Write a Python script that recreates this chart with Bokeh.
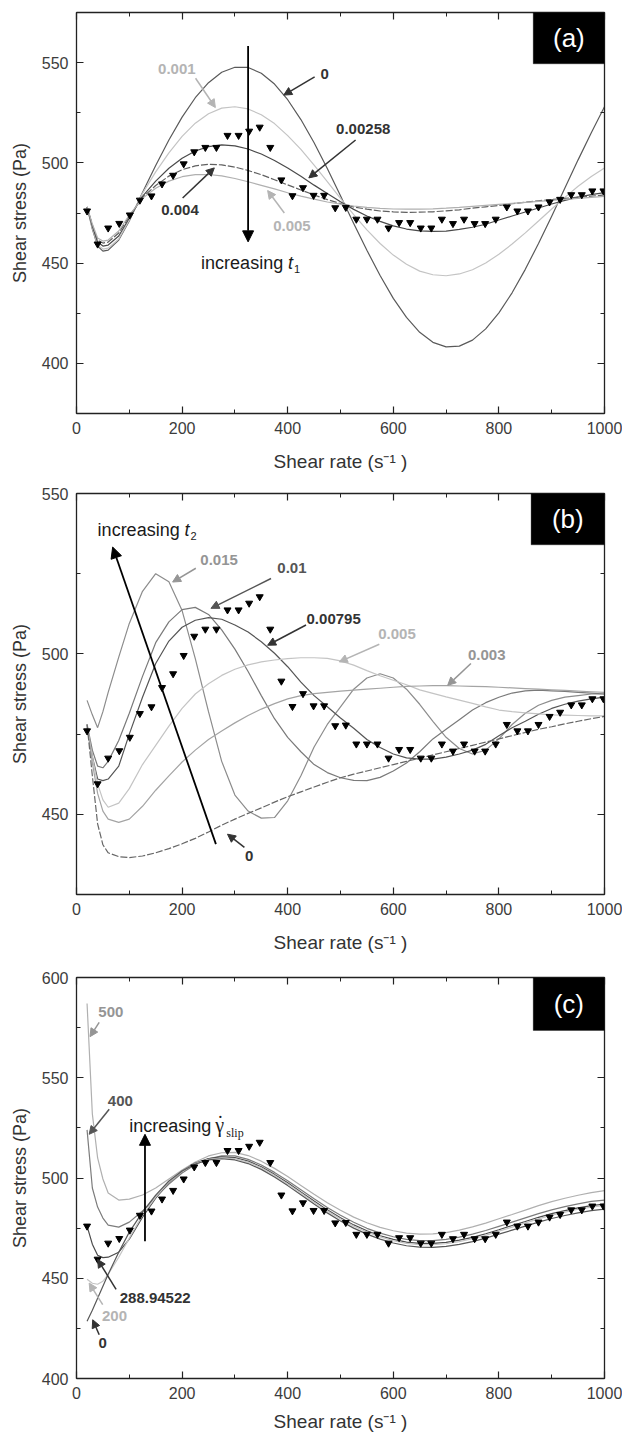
from bokeh.plotting import figure
from bokeh.layouts import column
from bokeh.models import (Range1d, LinearAxis, FixedTicker, BoxAnnotation, Label,
                          Arrow, NormalHead, CustomJSTickFormatter)
from bokeh.embed import file_html
from bokeh.resources import INLINE

FONT = "Liberation Sans"
SERIF = "Liberation Serif"

# ---------------- data ----------------
GRID_X = [20, 30, 40, 50, 60, 80, 100, 125, 150, 175, 200, 225, 250, 275, 300, 325, 350, 375,
          400, 425, 450, 475, 500, 525, 550, 575, 600, 625, 650, 675, 700, 725, 750, 775, 800,
          825, 850, 875, 900, 925, 950, 975, 1000]

DATA_X = [20, 40, 60, 81, 101, 120, 142, 162, 183, 203, 223, 244, 265, 286, 307, 327, 347, 367,
          388, 409, 429, 449, 469, 490, 510, 530, 550, 570, 591, 611, 632, 652, 672, 692, 713,
          734, 754, 774, 794, 815, 835, 855, 875, 896, 916, 937, 957, 977, 998]
DATA_Y = [476, 459.5, 467.5, 469.8, 474, 481.4, 483.5, 489.5, 493.8, 499.5, 505.5, 507.7, 507.7,
          513.7, 513.7, 515.8, 517.8, 507.7, 491.5, 483.6, 487.6, 483.8, 483.8, 477.6, 477.8,
          471.9, 471.9, 471.9, 467.5, 470.2, 470.2, 467.5, 467.5, 471.9, 469.7, 471.9, 469.7,
          469.7, 471.9, 478, 476, 476, 478, 480.5, 481.8, 484.1, 484.1, 486, 486]

# panel (a): t1 series
A_0 = [478, 467, 458.5, 456, 456.5, 461.5, 471, 485.2, 498.7, 511.4, 522.8, 532.5, 540, 545.2,
       547.7, 547.6, 544.7, 539.3, 531.5, 521.6, 510, 497.2, 483.6, 469.8, 456.4, 443.8, 432.4,
       422.9, 415.5, 410.5, 408.2, 408.6, 411.6, 417.2, 425.2, 435.2, 446.9, 459.8, 473.4,
       487.5, 501.5, 515, 528]
A_0001 = [478, 467.5, 459, 457, 457.5, 462, 471.5, 484.8, 495.5, 505, 513.2, 519.8, 524.5, 527.3,
          528, 526.9, 524, 519.6, 513.6, 506.7, 498.9, 490.7, 482.3, 474.2, 466.6, 459.8, 454,
          449.4, 446, 444.2, 443.7, 444.6, 446.7, 450.1, 454.4, 459.5, 465.1, 471, 477, 482.8,
          488.3, 493.2, 497.5]
A_00258 = [478, 468.5, 460.5, 458.5, 459, 463.5, 472.5, 483.3, 490.9, 497.3, 502.3, 505.9, 508.1,
           509, 508.5, 506.9, 504.4, 501.2, 497.4, 493.3, 488.9, 484.7, 480.6, 476.8, 473.5,
           470.8, 468.6, 467, 466.1, 465.8, 466, 466.8, 467.9, 469.4, 471.5, 473.5, 475.5, 477.5,
           479.5, 481.3, 482.9, 484.2, 485.2]
A_0004 = [478, 469, 461.5, 460, 460.5, 465, 473.5, 482.7, 488.7, 493.4, 496.6, 498.5, 499.3, 499,
          497.9, 496.2, 494.1, 491.6, 489, 486.5, 484, 481.7, 479.7, 478, 476.9, 476, 475.6,
          475.3, 475.4, 475.6, 476.1, 476.6, 477.4, 478.1, 478.8, 479.6, 480.4, 481.1, 481.7,
          482.3, 482.9, 483.4, 484]
A_0005 = [478, 469.5, 462.5, 461, 461.5, 466, 474, 482.3, 487.3, 490.9, 493.1, 494.1, 494.2,
          493.5, 492.2, 490.6, 488.8, 487, 485.1, 483.4, 481.9, 480.5, 479.4, 478.5, 477.8,
          477.3, 477, 476.9, 476.9, 477.1, 477.4, 477.8, 478.3, 478.8, 479.3, 479.8, 480.3,
          480.8, 481.3, 481.8, 482.3, 482.8, 483.3]

# panel (b): t2 series
B_0015 = [485.5, 481, 477, 482, 488, 499, 509.5, 519.5, 525, 522.5, 513.5, 498.5, 482, 466.5,
          456, 451, 448.8, 449, 454.2, 462, 471, 478, 483.5, 489, 492.5, 493.8, 492.5, 489,
          484.3, 479, 474, 470.5, 468.8, 470, 473.5, 478, 481.5, 484, 485.5, 486.5, 487, 487.5,
          487.5]
B_001 = [478, 470, 465, 464.5, 466.5, 473, 481.5, 493, 503.5, 510, 513.8, 514.5, 512.3, 507.5,
         501.5, 494.5, 487, 479.8, 474, 469.5, 465.5, 463, 461.4, 460.6, 460.5, 461.5, 463.5,
         466, 469.5, 473.5, 476.5, 479.5, 482.5, 484.8, 486.5, 487.8, 488.5, 488.7, 488.5,
         488.3, 488, 487.8, 487.5]
B_000795 = [477, 468, 461, 460.5, 461, 465, 475, 486.5, 497, 504, 508.3, 510.5, 511.3, 510.8, 509,
            506.8, 503.8, 500.2, 496, 491.2, 487, 483.5, 480, 476.8, 473.3, 470.8, 468.8, 467.6,
            467.2, 467.2, 467.8, 468.8, 470, 471.8, 474.5, 477, 479, 481.2, 483, 484.3, 485.3,
            486, 486.5]
B_0005 = [478, 468, 459.5, 454.5, 452.2, 453.5, 458, 465.5, 471.5, 477.5, 483, 487.5, 490.7,
          493.3, 495.2, 496.6, 497.5, 498.1, 498.5, 498.8, 498.8, 498.6, 497.8, 496.5, 494.8,
          493.2, 491.8, 490.4, 488.8, 487.7, 486.6, 485.6, 484.6, 483.5, 482.5, 482, 481.6,
          481.3, 481, 480.9, 480.8, 480.7, 480.7]
B_0003 = [478, 466, 456.5, 451, 448.5, 447.5, 448.5, 452.5, 457.5, 462, 466.3, 470, 473.3, 476,
          478.5, 480.8, 482.8, 484.5, 486, 487, 487.6, 488, 488.4, 488.7, 489, 489.3, 489.6,
          489.9, 490, 490.1, 490.1, 490, 489.9, 489.8, 489.6, 489.4, 489.2, 489, 488.8, 488.6,
          488.4, 488.2, 488]
B_0 = [478, 462, 447, 440.5, 438, 436.8, 436.5, 437, 438, 439.3, 440.8, 442.5, 444.5, 446.6,
       448.5, 450.3, 452, 453.8, 455.5, 457, 458.5, 460, 461.4, 462.5, 463.5, 464.5, 465.5,
       466.5, 467.5, 468.5, 469.5, 470.5, 471.5, 472.5, 473.5, 474.5, 475.5, 476.5, 477.3,
       478.2, 479, 479.8, 480.5]

# panel (c): slip-rate series
C_0 = [428.5, 434, 440, 446, 452, 463, 473, 483, 491.5, 498.5, 503.5, 507, 509, 509.6, 509,
       507.2, 504.3, 500.5, 496.2, 491.6, 487, 482.6, 478.6, 475, 472, 469.5, 467.6, 466.2,
       465.5, 465.4, 465.9, 466.9, 468.3, 470, 472, 474, 476, 478, 479.8, 481.3, 482.6, 483.7,
       484.5]
C_200 = [449.5, 447.5, 447, 448.5, 452, 460.5, 470, 481.5, 490.5, 498, 503.5, 507.2, 509.3, 510,
         509.7, 507.9, 505.1, 501.3, 497, 492.5, 487.9, 483.6, 479.6, 476, 473.1, 470.6, 468.7,
         467.4, 466.7, 466.7, 467.2, 468.3, 469.7, 471.4, 473.5, 475.5, 477.6, 479.6, 481.5,
         483, 484.4, 485.5, 486.3]
C_289 = [476, 467, 461.5, 460.3, 460.5, 463, 469.5, 480.5, 490, 497.8, 503.5, 507.5, 509.7,
         510.5, 510.2, 508.4, 505.6, 501.8, 497.6, 493, 488.5, 484.1, 480.2, 476.6, 473.7,
         471.2, 469.4, 468, 467.4, 467.4, 467.9, 469, 470.4, 472.2, 474.2, 476.3, 478.3, 480.4,
         482.2, 483.7, 485.1, 486.2, 487]
C_400 = [524, 495, 485.5, 480, 476.5, 475.5, 478, 483.5, 490.5, 497, 502.5, 506.7, 509.6, 511,
         511, 509.3, 506.5, 502.8, 498.6, 494.1, 489.6, 485.3, 481.4, 477.9, 474.9, 472.5, 470.7,
         469.4, 468.8, 468.8, 469.4, 470.5, 472, 473.8, 475.9, 478, 480.1, 482.2, 484.1, 485.7,
         487.1, 488.3, 489]
C_500 = [587, 532, 510, 499.5, 492.5, 489, 489.5, 491.5, 495, 499.5, 504, 508, 511, 512.6,
         512.8, 511.2, 508.4, 504.8, 500.7, 496.3, 491.9, 487.7, 483.9, 480.5, 477.7, 475.4,
         473.7, 472.5, 472, 472.1, 472.8, 474, 475.6, 477.5, 479.7, 481.8, 484, 486.2, 488.2,
         489.9, 491.4, 492.7, 493.7]

X_MAJOR = [0, 200, 400, 600, 800, 1000]
X_MINOR = [100, 300, 500, 700, 900]

DARK = "#333333"
DARK2 = "#555555"
GRAY = "#959595"
LIGHT = "#b4b4b4"
INK = "#1a1a1a"


def style_axis(ax, ticker, labels=True):
    ax.ticker = ticker
    ax.axis_line_color = "#222222"
    ax.axis_line_width = 1.3
    ax.major_tick_line_color = "#222222"
    ax.minor_tick_line_color = "#222222"
    ax.major_tick_line_width = 1.2
    ax.minor_tick_line_width = 1.0
    ax.major_tick_in = 7
    ax.major_tick_out = 0
    ax.minor_tick_in = 4
    ax.minor_tick_out = 0
    if labels:
        ax.major_label_text_font = FONT
        ax.major_label_text_font_size = "16px"
        ax.major_label_text_color = "#3c3c3c"
        ax.major_label_standoff = 8
        ax.axis_label_text_font = FONT
        ax.axis_label_text_font_size = "18px"
        ax.axis_label_text_font_style = "normal"
        ax.axis_label_text_color = "#333333"
    else:
        ax.formatter = CustomJSTickFormatter(code="return ''")
        ax.major_label_text_font_size = "0px"
        ax.major_label_standoff = 0


def make_panel(ylo, yhi, ymaj, ymin, top, bottom, xstand):
    p = figure(width=622, height=top + 401 + bottom,
               x_range=Range1d(0, 1000), y_range=Range1d(ylo, yhi),
               output_backend="svg", toolbar_location=None,
               min_border_left=76, min_border_right=18,
               min_border_top=top, min_border_bottom=bottom,
               x_axis_label="Shear rate (s\u207b\u00b9 )",
               y_axis_label="Shear stress (Pa)")
    p.grid.visible = False
    p.outline_line_color = "#222222"
    p.background_fill_color = "white"
    p.border_fill_color = "white"
    style_axis(p.xaxis[0], FixedTicker(ticks=X_MAJOR, minor_ticks=X_MINOR))
    style_axis(p.yaxis[0], FixedTicker(ticks=ymaj, minor_ticks=ymin))
    p.xaxis[0].axis_label_standoff = xstand
    p.xaxis[0].axis_label_text_font_size = "19px"
    p.yaxis[0].axis_label_standoff = 9
    top_ax = LinearAxis()
    style_axis(top_ax, FixedTicker(ticks=X_MAJOR, minor_ticks=X_MINOR), labels=False)
    p.add_layout(top_ax, "above")
    right_ax = LinearAxis()
    style_axis(right_ax, FixedTicker(ticks=ymaj, minor_ticks=ymin), labels=False)
    p.add_layout(right_ax, "right")
    return p


def add_tag(p, text, left, bottom, right, top):
    p.add_layout(BoxAnnotation(left=left, right=right, bottom=bottom, top=top,
                               fill_color="black", fill_alpha=1.0, line_color="black"))
    p.add_layout(Label(x=(left + right) / 2, y=(bottom + top) / 2, text=text,
                       text_font=FONT, text_font_size="26px", text_color="white",
                       text_align="center", text_baseline="middle"))


def add_callout(p, text, tx, ty, color, x0, y0, x1, y1):
    p.add_layout(Arrow(end=NormalHead(size=8, fill_color=color, line_color=color),
                       x_start=x0, y_start=y0, x_end=x1, y_end=y1,
                       line_color=color, line_width=1.5))
    p.add_layout(Label(x=tx, y=ty, text=text, text_font=FONT, text_font_size="15px",
                       text_font_style="bold", text_color=color,
                       text_align="center", text_baseline="middle"))


def big_arrow(p, x0, y0, x1, y1):
    p.add_layout(Arrow(end=NormalHead(size=11, fill_color="black", line_color="black"),
                       x_start=x0, y_start=y0, x_end=x1, y_end=y1,
                       line_color="black", line_width=1.8))


def inc_text(p, x, y, sym, sub, serif=False):
    p.add_layout(Label(x=x, y=y, text="increasing", text_font=FONT, text_font_size="18px",
                       text_color=INK, text_align="left", text_baseline="middle"))
    if serif:
        p.add_layout(Label(x=x, y=y, x_offset=86, y_offset=1, text=sym, text_font=SERIF,
                           text_font_size="20px", text_color=INK,
                           text_align="left", text_baseline="middle"))
        p.add_layout(Label(x=x, y=y, x_offset=91, y_offset=3, text="\u02d9", text_font=SERIF,
                           text_font_size="20px", text_color=INK,
                           text_align="center", text_baseline="middle"))
        p.add_layout(Label(x=x, y=y, x_offset=97, y_offset=-7, text=sub, text_font=SERIF,
                           text_font_size="12px", text_color=INK,
                           text_align="left", text_baseline="middle"))
    else:
        p.add_layout(Label(x=x, y=y, x_offset=87, text=sym, text_font=FONT,
                           text_font_size="18px", text_font_style="italic",
                           text_color=INK, text_align="left", text_baseline="middle"))
        p.add_layout(Label(x=x, y=y, x_offset=93, y_offset=-6, text=sub, text_font=FONT,
                           text_font_size="11px", text_color=INK,
                           text_align="left", text_baseline="middle"))


def add_data(p):
    p.scatter(DATA_X, DATA_Y, marker="inverted_triangle", size=7,
              fill_color="black", line_color="black")


# ---------------- panel (a) ----------------
pa = make_panel(375, 575, [400, 450, 500, 550], [375, 425, 475, 525, 575], 12, 68, 14)
pa.line(GRID_X, A_0, line_color="#5a5a5a", line_width=1.2)
pa.line(GRID_X, A_0001, line_color="#c4c4c4", line_width=1.2)
pa.line(GRID_X, A_00258, line_color="#4a4a4a", line_width=1.2)
pa.line(GRID_X, A_0004, line_color="#606060", line_width=1.2, line_dash="7 2")
pa.line(GRID_X, A_0005, line_color="#b0b0b0", line_width=1.2)
add_data(pa)
big_arrow(pa, 325, 558.3, 325, 460.6)
inc_text(pa, 236, 450, "t", "1")
add_callout(pa, "0", 470, 544.5, DARK, 451, 542.9, 392.5, 533.8)
add_callout(pa, "0.001", 190, 546.7, LIGHT, 225.5, 542.2, 263, 527.6)
add_callout(pa, "0.00258", 543, 516.9, DARK, 528.6, 511.4, 440, 492.5)
add_callout(pa, "0.004", 196, 476.7, DARK, 201, 482.5, 261, 497.5)
add_callout(pa, "0.005", 408, 468.3, LIGHT, 393.6, 475, 362, 486.2)
add_tag(pa, "(a)", 865, 549.4, 1000, 575)

# ---------------- panel (b) ----------------
pb = make_panel(425, 550, [450, 500, 550], [425, 475, 525], 12, 71, 14)
pb.line(GRID_X, B_0015, line_color="#8c8c8c", line_width=1.2)
pb.line(GRID_X, B_001, line_color="#7a7a7a", line_width=1.2)
pb.line(GRID_X, B_000795, line_color="#555555", line_width=1.2)
pb.line(GRID_X, B_0005, line_color="#c4c4c4", line_width=1.2)
pb.line(GRID_X, B_0003, line_color="#a4a4a4", line_width=1.2)
pb.line(GRID_X, B_0, line_color="#666666", line_width=1.2, line_dash="7 2")
add_data(pb)
big_arrow(pb, 264, 440.7, 68.5, 533.3)
inc_text(pb, 40, 538.6, "t", "2")
add_callout(pb, "0.015", 270, 529.2, GRAY, 226, 526.7, 182, 522.4)
add_callout(pb, "0.01", 408, 526.7, DARK2, 368.4, 523.5, 254.7, 514.2)
add_callout(pb, "0.00795", 487, 511, DARK, 434.7, 509, 362, 502.7)
add_callout(pb, "0.005", 607, 506.3, LIGHT, 573.5, 503, 497.7, 497.5)
add_callout(pb, "0.003", 777, 499.6, GRAY, 747, 497, 703, 490.2)
add_callout(pb, "0", 327, 437, DARK, 318, 439.7, 286, 443.8)
add_tag(pb, "(b)", 861, 534, 1000, 550)

# ---------------- panel (c) ----------------
pc = make_panel(400, 600, [400, 450, 500, 550, 600], [425, 475, 525, 575], 12, 58, 9)
pc.line(GRID_X, C_500, line_color="#b0b0b0", line_width=1.2)
pc.line(GRID_X, C_400, line_color="#7c7c7c", line_width=1.2)
pc.line(GRID_X, C_289, line_color="#4a4a4a", line_width=1.2)
pc.line(GRID_X, C_200, line_color="#c4c4c4", line_width=1.2)
pc.line(GRID_X, C_0, line_color="#585858", line_width=1.2)
add_data(pc)
big_arrow(pc, 129.7, 468.5, 129.7, 521.8)
inc_text(pc, 100, 526, "\u03b3", "slip", serif=True)
add_callout(pc, "500", 65, 582.6, GRAY, 43, 577.6, 25.6, 570.5)
add_callout(pc, "400", 83, 538.5, DARK2, 62, 534.3, 24, 521.8)
add_callout(pc, "288.94522", 149, 440, DARK, 75, 444.4, 40, 459.4)
add_callout(pc, "200", 72, 431, LIGHT, 49.6, 436.8, 24, 447.6)
add_callout(pc, "0", 49.6, 417.6, DARK, 43, 421.8, 30.7, 429.3)
add_tag(pc, "(c)", 865, 573.6, 1000, 600)

layout = column(pa, pb, pc)
open("out.html", "w").write(file_html(layout, INLINE))
